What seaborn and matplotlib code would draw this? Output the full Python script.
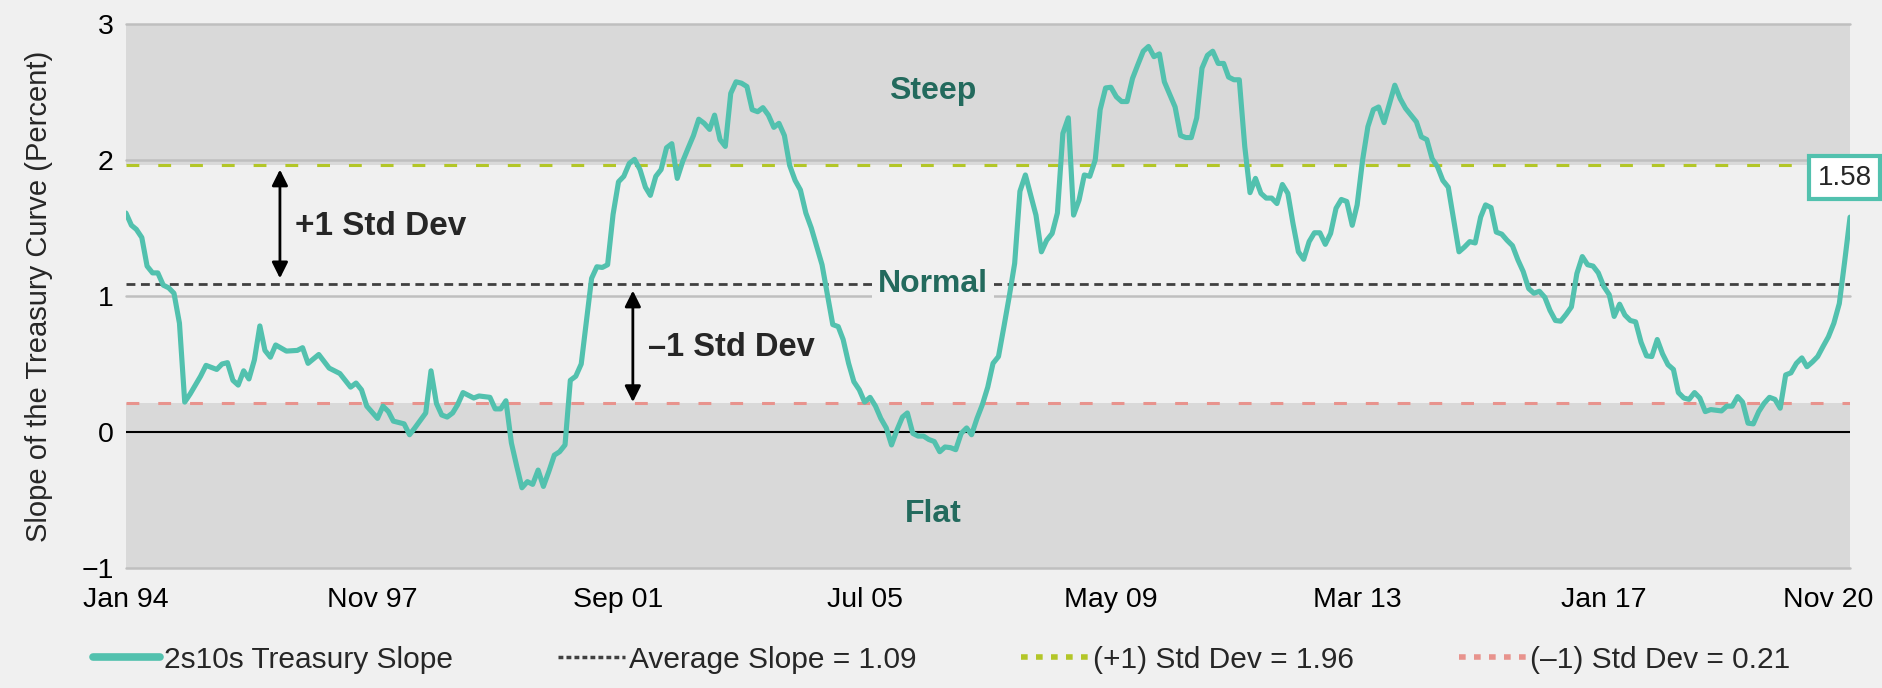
import numpy as np
import pandas as pd
import matplotlib
matplotlib.use("Agg")
from matplotlib import pyplot as plt
from matplotlib import transforms
from matplotlib.lines import Line2D
import seaborn as sns

# month offset from Jan 1994 and the 2s10s slope (percent)
months = [
    0, 1, 2, 3, 4, 5, 6, 7, 8, 9, 10, 11, 12, 14, 15, 17, 18, 19, 20, 21,
    22, 23, 24, 25, 26, 27, 28, 30, 32, 33, 34, 36, 38, 40, 42, 43, 44, 45, 47, 48,
    49, 50, 52, 53, 54, 56, 57, 58, 59, 60, 61, 62, 63, 64, 65, 66, 68, 69, 70, 71,
    72, 73, 74, 75, 76, 77, 78, 79, 80, 81, 82, 83, 84, 85, 86, 87, 88, 89, 90, 91,
    92, 93, 94, 95, 96, 97, 98, 99, 100, 101, 102, 103, 104, 105, 106, 107, 108, 109, 110, 111,
    112, 113, 114, 115, 116, 117, 118, 119, 120, 121, 122, 123, 124, 125, 126, 127, 128, 130, 132, 133,
    134, 135, 136, 137, 138, 139, 140, 141, 142, 143, 144, 145, 146, 147, 148, 149, 150, 151, 152, 153,
    154, 155, 156, 157, 158, 159, 160, 161, 162, 163, 164, 165, 166, 167, 168, 170, 171, 172, 173, 174,
    175, 176, 177, 178, 179, 180, 181, 182, 183, 184, 185, 186, 187, 188, 189, 190, 191, 192, 193, 194,
    195, 196, 197, 198, 199, 200, 201, 202, 203, 204, 205, 206, 207, 208, 209, 210, 211, 212, 213, 214,
    215, 216, 217, 218, 219, 220, 221, 222, 223, 224, 225, 226, 227, 228, 229, 230, 231, 232, 233, 234,
    235, 236, 237, 238, 239, 240, 241, 242, 243, 244, 245, 246, 247, 248, 249, 250, 251, 252, 253, 254,
    255, 256, 257, 258, 259, 260, 261, 262, 263, 264, 265, 266, 267, 268, 269, 270, 271, 272, 273, 274,
    275, 276, 277, 278, 279, 280, 281, 282, 283, 284, 285, 286, 287, 288, 289, 290, 291, 292, 293, 294,
    295, 296, 298, 299, 300, 301, 302, 303, 304, 305, 306, 307, 308, 309, 310, 311, 312, 313, 314, 315,
    316, 317, 318, 319, 320, 321, 322,
]
slope = [
    1.61, 1.52, 1.49, 1.43, 1.22, 1.17, 1.17, 1.08, 1.06, 1.02, 0.80, 0.22, 0.28, 0.41, 0.49, 0.46, 0.50, 0.51, 0.38, 0.345,
    0.45, 0.39, 0.53, 0.78, 0.60, 0.55, 0.64, 0.595, 0.60, 0.62, 0.505, 0.57, 0.47, 0.43, 0.33, 0.36, 0.31, 0.19, 0.10, 0.19,
    0.15, 0.08, 0.06, -0.02, 0.03, 0.14, 0.45, 0.21, 0.125, 0.11, 0.14, 0.20, 0.29, 0.27, 0.25, 0.265, 0.255, 0.17, 0.17, 0.23,
    -0.08, -0.255, -0.41, -0.365, -0.385, -0.28, -0.40, -0.29, -0.17, -0.145, -0.095, 0.38, 0.41, 0.50, 0.80, 1.13, 1.215, 1.21, 1.23, 1.60,
    1.84, 1.88, 1.975, 2.005, 1.93, 1.80, 1.74, 1.88, 1.93, 2.09, 2.12, 1.865, 1.99, 2.085, 2.18, 2.30, 2.27, 2.225, 2.33, 2.15,
    2.10, 2.49, 2.575, 2.565, 2.54, 2.37, 2.355, 2.385, 2.33, 2.24, 2.27, 2.18, 1.96, 1.85, 1.78, 1.61, 1.50, 1.23, 0.79, 0.775,
    0.68, 0.505, 0.37, 0.31, 0.22, 0.255, 0.19, 0.10, 0.03, -0.095, 0.015, 0.11, 0.14, -0.01, -0.03, -0.03, -0.055, -0.07, -0.145, -0.11,
    -0.115, -0.13, -0.01, 0.03, -0.02, 0.10, 0.20, 0.33, 0.505, 0.555, 0.775, 0.995, 1.24, 1.77, 1.89, 1.595, 1.325, 1.41, 1.46, 1.61,
    2.195, 2.31, 1.595, 1.705, 1.89, 1.88, 2.0, 2.37, 2.53, 2.535, 2.465, 2.43, 2.43, 2.60, 2.70, 2.80, 2.835, 2.76, 2.78, 2.575,
    2.48, 2.39, 2.18, 2.165, 2.165, 2.31, 2.675, 2.77, 2.80, 2.71, 2.71, 2.61, 2.59, 2.59, 2.10, 1.76, 1.865, 1.755, 1.72, 1.72,
    1.68, 1.82, 1.755, 1.535, 1.325, 1.27, 1.40, 1.465, 1.465, 1.38, 1.46, 1.645, 1.71, 1.695, 1.52, 1.67, 2.0, 2.245, 2.37, 2.39,
    2.275, 2.415, 2.55, 2.45, 2.38, 2.33, 2.28, 2.17, 2.15, 2.01, 1.95, 1.85, 1.80, 1.56, 1.325, 1.36, 1.40, 1.39, 1.58, 1.67,
    1.65, 1.47, 1.455, 1.41, 1.37, 1.265, 1.18, 1.055, 1.02, 1.035, 0.99, 0.895, 0.82, 0.815, 0.865, 0.92, 1.165, 1.29, 1.23, 1.22,
    1.17, 1.07, 1.01, 0.85, 0.94, 0.86, 0.82, 0.81, 0.66, 0.56, 0.555, 0.68, 0.575, 0.495, 0.46, 0.29, 0.25, 0.24, 0.29, 0.25,
    0.15, 0.165, 0.155, 0.19, 0.19, 0.26, 0.22, 0.065, 0.06, 0.15, 0.21, 0.255, 0.24, 0.175, 0.42, 0.435, 0.505, 0.545, 0.48, 0.515,
    0.555, 0.63, 0.70, 0.80, 0.945, 1.25, 1.58,
]

avg_slope = 1.09
std_up = 1.96
std_down = 0.21
last_value = 1.58

tick_labels = ["Jan 94", "Nov 97", "Sep 01", "Jul 05", "May 09", "Mar 13", "Jan 17", "Nov 20"]
legend_labels = [
    "2s10s Treasury Slope",
    "Average Slope = 1.09",
    "(+1) Std Dev = 1.96",
    "(\u20131) Std Dev = 0.21",
]

# colours
BG = "#F0F0F0"
BAND = "#D9D9D9"
GRID = "#BFBFBF"
TEAL = "#52C1AE"
GREEN = "#B3C628"
PINK = "#E8938D"
DARK = "#404040"
ZONE = "#236A5D"

sns.set_style("white")
plt.rcParams["font.family"] = ["Liberation Sans", "DejaVu Sans"]

dates = pd.to_datetime([f"{1994 + m // 12}-{m % 12 + 1:02d}-01" for m in months])
df = pd.DataFrame({"date": dates, "slope": slope})
tick_dates = pd.to_datetime(tick_labels, format="%b %y")

fig = plt.figure(figsize=(18.83, 6.88), dpi=100, facecolor=BG)
ax = fig.add_axes([0.0669, 0.1744, 0.9156, 0.7907])
ax.set_facecolor(BG)

# shaded zones and grid
ax.axhspan(-1, std_down, color=BAND, lw=0, zorder=0)
ax.axhspan(std_up, 3, color=BAND, lw=0, zorder=0)
for y in [-1, 1, 2, 3]:
    ax.axhline(y, color=GRID, lw=1.8, zorder=1, clip_on=False)
ax.axhline(0, color="black", lw=1.5, zorder=2)

# reference lines
ax.axhline(avg_slope, color=DARK, lw=2, dashes=(3.2, 2.0), zorder=3)
ax.axhline(std_up, color=GREEN, lw=2.2, dashes=(4.2, 6.2), zorder=3)
ax.axhline(std_down, color=PINK, lw=2.2, dashes=(4.2, 6.2), zorder=3)

sns.lineplot(data=df, x="date", y="slope", ax=ax, color=TEAL, lw=3.7, zorder=5)

ax.set_xlim(dates[0], dates[-1])
ax.set_ylim(-1, 3)
ax.set_xticks(tick_dates)
ax.set_xticklabels(tick_labels)
ax.set_yticks([-1, 0, 1, 2, 3])
ax.tick_params(axis="both", length=0, labelsize=20.5, colors="black")
ax.tick_params(axis="x", pad=14)
ax.tick_params(axis="y", pad=9)
ax.set_xlabel("")
ax.set_ylabel("Slope of the Treasury Curve (Percent)", fontsize=21, labelpad=20)
for s in ax.spines.values():
    s.set_visible(False)

# last date label sits a bit inside the right edge
last_lab = ax.get_xticklabels()[-1]
last_lab.set_transform(last_lab.get_transform()
                       + transforms.ScaledTranslation(-0.22, 0, fig.dpi_scale_trans))

blend = transforms.blended_transform_factory(ax.transAxes, ax.transData)

# zone names
zone_kw = dict(transform=blend, ha="center", va="center", fontsize=23,
               fontweight="bold", color=ZONE, zorder=6)
ax.text(0.468, 2.51, "Steep", **zone_kw)
ax.text(0.468, avg_slope, "Normal",
        bbox=dict(boxstyle="square,pad=0.18", fc=BG, ec="none"), **zone_kw)
ax.text(0.468, -0.60, "Flat", **zone_kw)

# std dev arrows
arrow = dict(arrowstyle="<|-|>", color="black", lw=2, mutation_scale=24,
             shrinkA=0, shrinkB=0)
ax.annotate("", xy=(0.0893, std_up - 0.03), xytext=(0.0893, avg_slope + 0.04),
            xycoords=blend, textcoords=blend, arrowprops=arrow, zorder=6)
ax.annotate("", xy=(0.294, avg_slope - 0.05), xytext=(0.294, std_down + 0.01),
            xycoords=blend, textcoords=blend, arrowprops=arrow, zorder=6)
ax.text(0.098, 1.51, "+1 Std Dev", transform=blend, ha="left", va="center",
        fontsize=24, fontweight="bold", zorder=6)
ax.text(0.303, 0.62, "\u20131 Std Dev", transform=blend, ha="left", va="center",
        fontsize=23.5, fontweight="bold", zorder=6)

# latest value tag
ax.text(0.997, 1.87, f"{last_value:.2f}", transform=blend, ha="center", va="center",
        fontsize=20, zorder=7, clip_on=False,
        bbox=dict(boxstyle="square,pad=0.3", fc="white", ec=TEAL, lw=3))

handles = [
    Line2D([], [], color=TEAL, lw=5.5),
    Line2D([], [], color=DARK, lw=2.5, dashes=(1.4, 0.9)),
    Line2D([], [], color=GREEN, lw=4, dashes=(1.2, 1.5)),
    Line2D([], [], color=PINK, lw=4, dashes=(1.2, 1.5)),
]
fig.legend(handles, legend_labels, loc="center", bbox_to_anchor=(0.5, 0.041),
           ncol=4, frameon=False, fontsize=21.5, handlelength=2.25,
           handletextpad=0.15, columnspacing=3.5)

fig.savefig("out.png", dpi=100, facecolor=BG)
